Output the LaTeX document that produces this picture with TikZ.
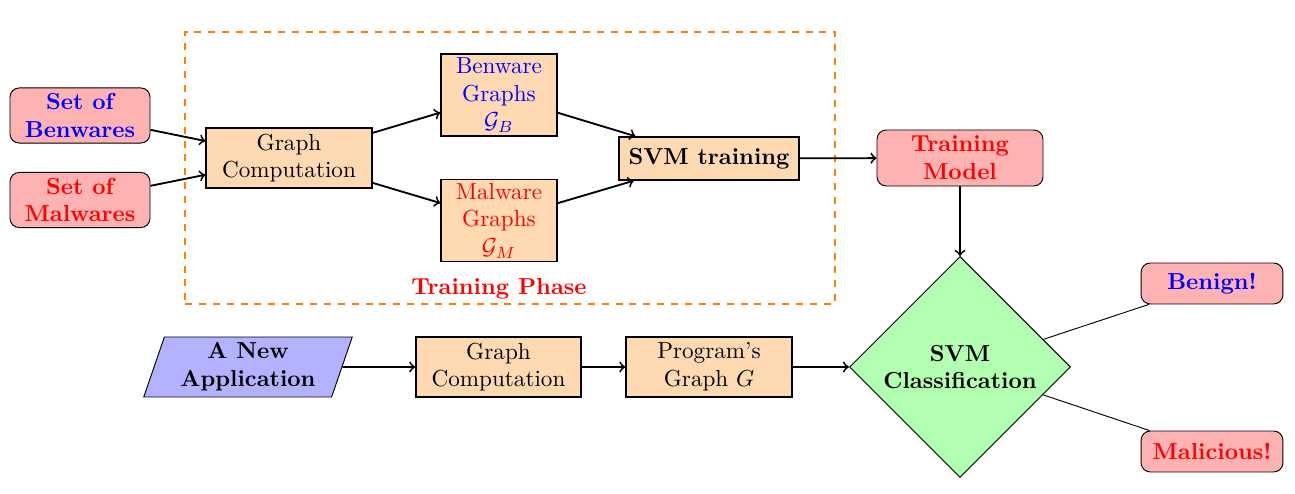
\documentclass[tikz,border=0pt]{standalone}
\usetikzlibrary{shapes.geometric}
\begin{document}
\begin{tikzpicture}[x=0.432pt,y=-0.432pt,
  rbox/.style={draw, rounded corners=4pt, fill=red!30, font=\bfseries, align=center, inner sep=1pt},
  obox/.style={draw, semithick, fill=orange!30, align=center, inner sep=1pt},
  arr/.style={->, thick}]
\useasboundingbox (0,0) rectangle (1295,494);
\node[draw=orange, thick, dashed, minimum width=280.8pt, minimum height=117.5pt, inner sep=0pt] (phase) at (510,168) {};
\node[font=\bfseries, text=red] (tp) at (499,289) {Training Phase};
\node[rbox, text=blue, minimum width=60.5pt, minimum height=23.8pt] (ben) at (80,115.5) {Set of\\Benwares};
\node[rbox, text=red, minimum width=60.5pt, minimum height=23.8pt] (mal) at (80,200) {Set of\\Malwares};
\node[obox, minimum width=71.7pt, minimum height=25.9pt] (gc) at (289,158) {Graph\\Computation};
\node[obox, text=blue, minimum width=50.1pt, minimum height=35.4pt] (bg) at (499,95) {Benware\\Graphs\\$\mathcal{G}_B$};
\node[obox, text=red, minimum width=50.1pt, minimum height=35.4pt] (mg) at (499,220.5) {Malware\\Graphs\\$\mathcal{G}_M$};
\node[obox, font=\bfseries, minimum width=77.8pt, minimum height=18.6pt] (svmt) at (709,158.5) {SVM training};
\node[rbox, text=red, minimum width=71.7pt, minimum height=24.2pt] (tm) at (960,158) {Training\\Model};
\node[trapezium, trapezium left angle=72, trapezium right angle=108, trapezium stretches=true, draw, fill=blue!30, font=\bfseries, align=center, inner sep=1pt, minimum width=90.7pt, minimum height=25.9pt] (app) at (248,367) {A New\\Application};
\node[obox, minimum width=71.3pt, minimum height=25.9pt] (gc2) at (498.5,367) {Graph\\Computation};
\node[obox, minimum width=71.7pt, minimum height=25.9pt] (pg) at (709,367) {Program's\\Graph $G$};
\node[diamond, draw, fill=green!30, font=\bfseries, align=center, inner sep=0pt, minimum width=95.5pt, minimum height=95.5pt] (cls) at (960,367) {SVM\\Classification};
\node[rbox, text=blue, minimum width=61.3pt, minimum height=17.7pt] (ben2) at (1212,283.5) {Benign!};
\node[rbox, text=red, minimum width=61.3pt, minimum height=17.7pt] (mal2) at (1212,451.5) {Malicious!};
\draw[arr] (ben) -- (gc);
\draw[arr] (mal) -- (gc);
\draw[arr] (gc) -- (bg);
\draw[arr] (gc) -- (mg);
\draw[arr] (bg) -- (svmt);
\draw[arr] (mg) -- (svmt);
\draw[arr] (svmt) -- (tm);
\draw[arr] (tm) -- (cls);
\draw[arr] (app) -- (gc2);
\draw[arr] (gc2) -- (pg);
\draw[arr] (pg) -- (cls);
\draw (cls) -- (ben2);
\draw (cls) -- (mal2);
\end{tikzpicture}
\end{document}
